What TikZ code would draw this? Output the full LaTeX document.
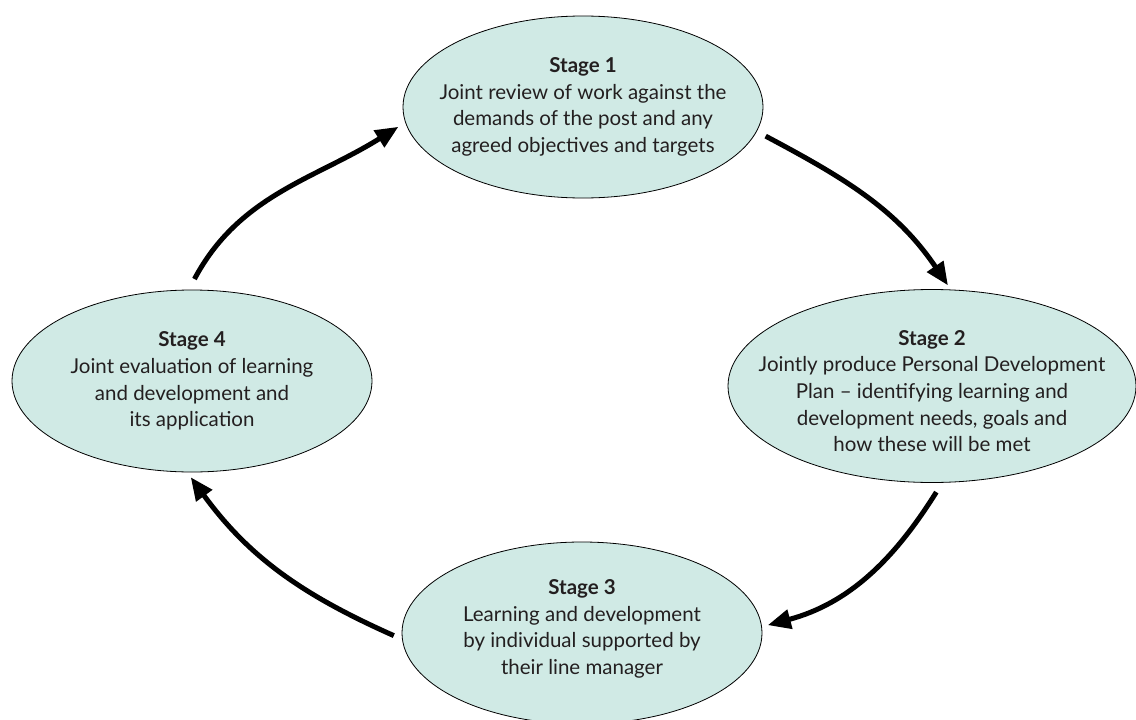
\documentclass[tikz,border=0pt]{standalone}
\usepackage{fontspec}
\setmainfont{Lato}
\usepackage{tikz}
\usetikzlibrary{shapes.geometric, arrows.meta}

\definecolor{stagefill}{RGB}{208,234,229}
\definecolor{inkgrey}{RGB}{35,31,32}

\begin{document}
\begin{tikzpicture}[
    x=1pt, y=1pt,
    stage/.style={ellipse, draw=black, line width=0.8pt, fill=stagefill, minimum width=360pt, minimum height=182pt, inner sep=0pt},
    stagetext/.style={align=center, text=inkgrey, font=\fontsize{20.5}{26.7}\selectfont},
    arrow/.style={line width=5pt, -{Triangle[length=23pt, width=19pt]}}
]
\useasboundingbox (0,0) rectangle (1136,-720);

% Nodes
\node (s1) [stage, label={[stagetext]center:\textbf{Stage 1}\\Joint review of work against the\\demands of the post and any\\agreed objectives and targets}] at (583,-107) {};

\node (s2) [stage, minimum width=408pt, minimum height=193pt, label={[stagetext, yshift=-5pt]center:\textbf{Stage 2}\\Jointly produce Personal Development\\Plan -- identifying learning and\\development needs, goals and\\how these will be met}] at (932,-386) {};

\node (s3) [stage, label={[stagetext, yshift=4pt]center:\textbf{Stage 3}\\Learning and development\\by individual supported by\\their line manager}] at (582,-633) {};

\node (s4) [stage, label={[stagetext]center:\textbf{Stage 4}\\Joint evaluation of learning\\and development and\\its application}] at (192,-381) {};

% Arrows
\draw [arrow, shorten <=10pt, shorten >=5pt] (s1.-8) to[out=-28, in=124] (s2.79);
\draw [arrow, shorten <=11pt, shorten >=6pt] (s2.-84) to[out=-122, in=15] (s3.2);
\draw [arrow, shorten <=9pt, shorten >=6pt] (s3.182) to[out=156, in=-54] (s4.-93);
\draw [arrow, shorten <=12pt, shorten >=8pt] (s4.92) to[out=62, in=-148] (s1.185);

\end{tikzpicture}
\end{document}
